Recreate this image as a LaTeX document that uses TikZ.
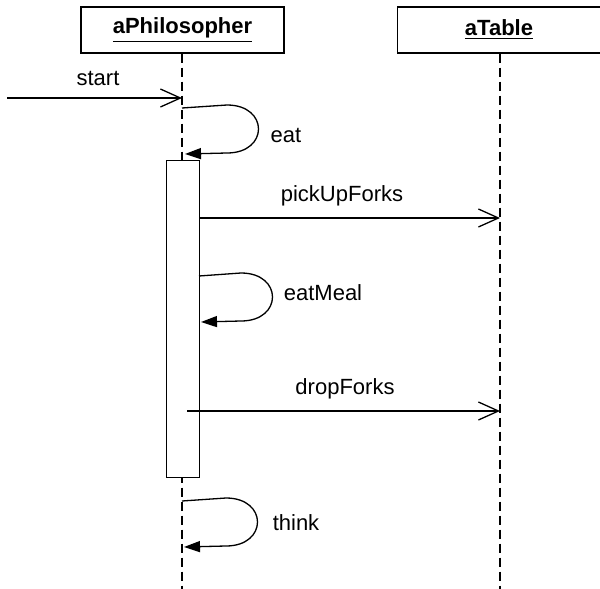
\documentclass[tikz,border=0pt]{standalone}
\usepackage{fontspec}
\setmainfont{Liberation Sans}
\usetikzlibrary{arrows.meta,positioning}

\begin{document}
\begin{tikzpicture}[x=.5pt, y=-.5pt,
  every path/.style={line width=.65pt},
  every node/.style={font={\fontsize{11}{13}\selectfont}},
  object/.style={draw=black, rectangle, minimum width=101.5pt, minimum height=23pt, font={\fontsize{11}{13}\selectfont\bfseries}, fill=white},
  lifeline/.style={draw=black, dash pattern=on 4.5pt off 2.5pt},
  message/.style={-{Straight Barb[length=10pt, width=9pt, line width=.65pt]}},
  selfcall/.style={-{Triangle[length=8pt, width=5.5pt]}},
  label/.style={inner sep=1pt}]
\useasboundingbox (0,0) rectangle (600,589);
% objects
\node[object] (phil) at (182.5,30) {\underline{aPhilosopher}};
\node[object] (table) at (499,30) {\underline{aTable}};
\coordinate (philEnd) at (182,589);
\coordinate (tableEnd) at (500,589);
\draw[lifeline] (phil.south -| philEnd) -- (philEnd);
\draw[lifeline] (table.south -| tableEnd) -- (tableEnd);
% activation
\node[draw=black, fill=white, minimum width=16.5pt, minimum height=158.5pt, inner sep=0pt, anchor=north west] (act) at (166,160) {};
% start
\coordinate (startFrom) at (7,98);
\coordinate (startTo) at (182,98);
\draw[message] (startFrom) -- (startTo);
\node[label] (startLbl) at (98,78) {start};
% eat
\coordinate (eatFrom) at (182,108);
\coordinate (eatTo) at (185,154);
\draw[selfcall] (eatFrom) -- ++(45,-3) .. controls +(42,0) and +(42,0) .. ++(0,48) -- (eatTo);
\node[label] (eatLbl) at (286,135) {eat};
% pickUpForks
\coordinate (pickFrom) at (act.east |- 0,218);
\coordinate (pickTo) at (500,218);
\draw[message] (pickFrom) -- (pickTo);
\node[label] (pickLbl) at (342,196) {pickUpForks};
% eatMeal
\coordinate (mealFrom) at (199,276);
\coordinate (mealTo) at (201,322);
\draw[selfcall] (mealFrom) -- ++(42,-3) .. controls +(42,0) and +(42,0) .. ++(0,48) -- (mealTo);
\node[label] (mealLbl) at (323,293) {eatMeal};
% dropForks
\coordinate (dropFrom) at (187,411);
\coordinate (dropTo) at (500,411);
\draw[message] (dropFrom) -- (dropTo);
\node[label] (dropLbl) at (345,389) {dropForks};
% think
\coordinate (thinkFrom) at (182,501);
\coordinate (thinkTo) at (184,547);
\draw[selfcall] (thinkFrom) -- ++(44,-3) .. controls +(42,0) and +(42,0) .. ++(0,48) -- (thinkTo);
\node[label] (thinkLbl) at (296,523) {think};
\end{tikzpicture}
\end{document}
